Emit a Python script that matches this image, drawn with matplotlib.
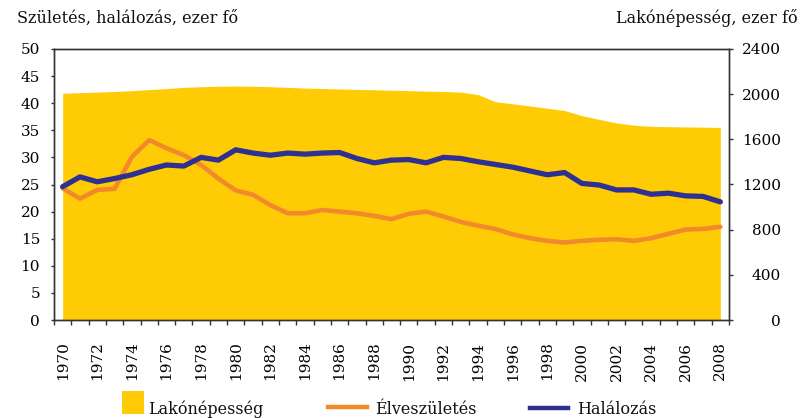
import numpy as np
import matplotlib
matplotlib.use("Agg")
import matplotlib.pyplot as plt
from matplotlib.patches import Rectangle
from matplotlib.lines import Line2D

# Budapest: population (right axis) and live births / deaths (left axis), thousand persons
years = list(range(1970, 2009))
population = [2008, 2013, 2018, 2024, 2031, 2040, 2050, 2060, 2066, 2070,
              2072, 2070, 2066, 2060, 2054, 2050, 2046, 2042, 2039, 2035,
              2031, 2027, 2024, 2018, 1996, 1933, 1915, 1895, 1875, 1855,
              1810, 1777, 1745, 1725, 1715, 1712, 1710, 1708, 1705]
births = [24.3, 22.4, 24.0, 24.2, 30.1, 33.2, 31.7, 30.4, 28.6, 26.1,
          23.9, 23.1, 21.2, 19.7, 19.7, 20.3, 20.0, 19.7, 19.2, 18.6,
          19.6, 20.0, 19.1, 18.1, 17.4, 16.8, 15.8, 15.1, 14.6, 14.3,
          14.6, 14.8, 14.9, 14.6, 15.1, 15.9, 16.7, 16.8, 17.2]
deaths = [24.6, 26.4, 25.5, 26.1, 26.8, 27.8, 28.6, 28.4, 30.0, 29.5,
          31.4, 30.8, 30.4, 30.8, 30.6, 30.8, 30.9, 29.8, 29.0, 29.5,
          29.6, 29.0, 30.0, 29.8, 29.2, 28.7, 28.2, 27.5, 26.8, 27.2,
          25.2, 24.9, 24.0, 24.0, 23.2, 23.4, 22.9, 22.8, 21.8]
year_labels = [str(y) for y in range(1970, 2009, 2)]
left_ticks = list(range(0, 51, 5))
right_ticks = list(range(0, 2401, 400))

series_names = ["Lakónépesség", "Élveszületés", "Halálozás"]
left_title = "Születés, halálozás, ezer fő"
right_title = "Lakónépesség, ezer fő"

YELLOW = "#FFCB05"
ORANGE = "#F2892A"
BLUE = "#2E3192"
SPINE = "#333333"
FONT = "DejaVu Serif"

plt.rcParams["font.family"] = [FONT, "DejaVu Sans"]
plt.rcParams["text.color"] = "#111111"

W, H = 806, 418
fig = plt.figure(figsize=(W / 100, H / 100), dpi=100)
ax = fig.add_axes([54 / W, 98 / H, 675 / W, 271 / H])
ax2 = ax.twinx()

# population as a filled area on the right axis
ax2.fill_between(years, 0, population, color=YELLOW, lw=0)
ax2.set_ylim(0, 2400)
ax2.set_yticks(right_ticks)
ax2.set_yticklabels([str(v) for v in right_ticks], ha="right")
ax2.tick_params(axis="y", direction="out", length=3, width=1, color=SPINE,
                pad=34.5, labelsize=11)

# births and deaths drawn above the area
ax.set_zorder(ax2.get_zorder() + 1)
ax.patch.set_visible(False)
ax.plot(years, births, color=ORANGE, lw=3.3, solid_capstyle="round",
        solid_joinstyle="round")
ax.plot(years, deaths, color=BLUE, lw=3.8, solid_capstyle="round",
        solid_joinstyle="round")
ax.set_ylim(0, 50)
ax.set_yticks(left_ticks)
ax.tick_params(axis="y", direction="out", length=2.5, width=1, color=SPINE,
               pad=7.5, labelsize=11)

# category-style x axis: tick marks between years, labels on even years
ax.set_xlim(years[0] - 0.5, years[-1] + 0.5)
ax.set_xticks(np.arange(years[0] - 0.5, years[-1] + 1.0, 1.0))
ax.set_xticklabels([])
ax.set_xticks(list(range(1970, 2009, 2)), minor=True)
ax.set_xticklabels(year_labels, minor=True, rotation=90, va="top", ha="center")
ax.tick_params(axis="x", which="major", direction="out", length=3.6, width=1,
               color=SPINE)
ax.tick_params(axis="x", which="minor", length=0, pad=15.5, labelsize=11)

for a in (ax, ax2):
    for s in a.spines.values():
        s.set_color(SPINE)
        s.set_linewidth(1)

# axis titles
fig.text(17 / W, 1 - 23 / H, left_title, fontsize=11.5, ha="left", va="baseline")
fig.text(798 / W, 1 - 23 / H, right_title, fontsize=11.5, ha="right", va="baseline")

# legend row
fig.patches.append(Rectangle((122 / W, 1 - 414 / H), 22 / W, 23 / H,
                             transform=fig.transFigure, color=YELLOW, lw=0))
fig.text(148 / W, 1 - 414 / H, series_names[0], fontsize=11.5, va="baseline")
fig.lines.append(Line2D([328 / W, 367 / W], [1 - 406.5 / H] * 2,
                        transform=fig.transFigure, color=ORANGE, lw=3.2))
fig.text(375 / W, 1 - 414 / H, series_names[1], fontsize=11.5, va="baseline")
fig.lines.append(Line2D([530 / W, 568 / W], [1 - 407.5 / H] * 2,
                        transform=fig.transFigure, color=BLUE, lw=3.2))
fig.text(577 / W, 1 - 414 / H, series_names[2], fontsize=11.5, va="baseline")

fig.savefig("out.png", dpi=100)
